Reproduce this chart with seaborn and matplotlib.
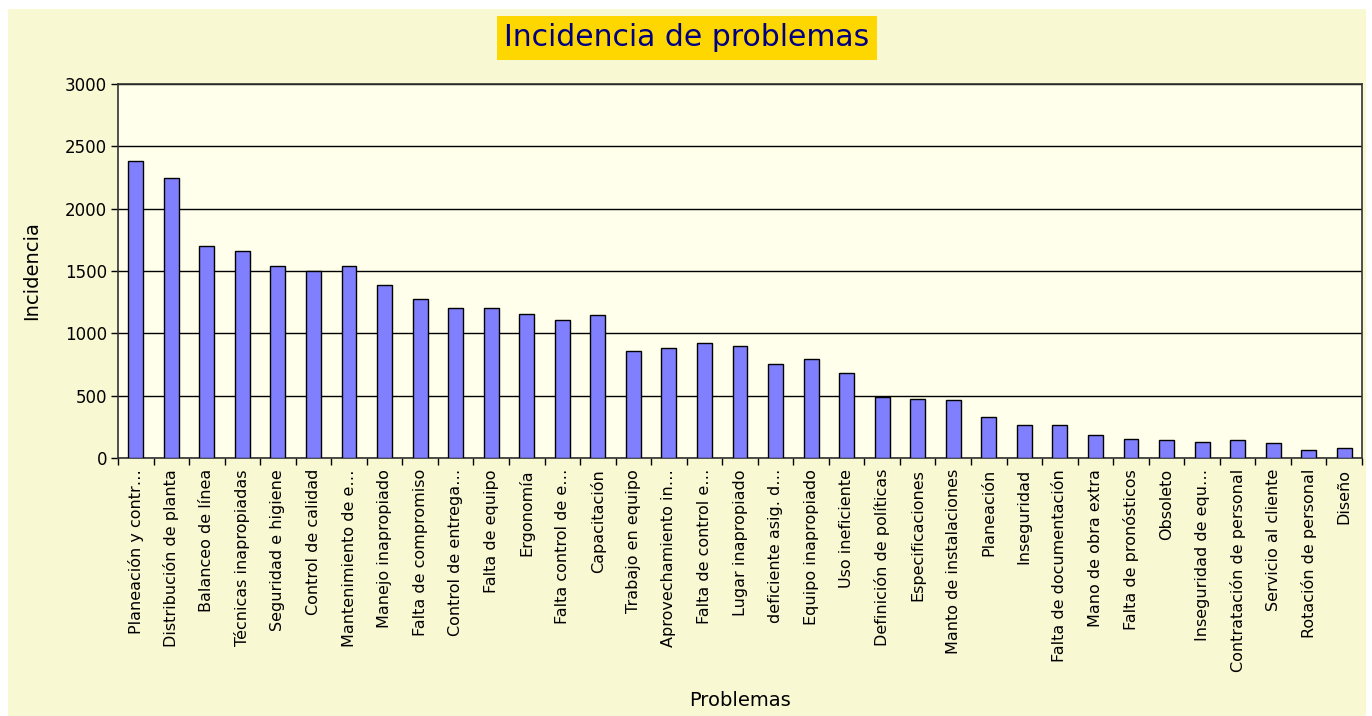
import seaborn as sns
import numpy as np
import pandas as pd
import matplotlib.pyplot as plt
from matplotlib.patches import Rectangle
from matplotlib.ticker import FixedLocator

problemas = [
    "Planeación y contr…", "Distribución de planta", "Balanceo de línea",
    "Técnicas inapropiadas", "Seguridad e higiene", "Control de calidad",
    "Mantenimiento de e…", "Manejo inapropiado", "Falta de compromiso",
    "Control de entrega…", "Falta de equipo", "Ergonomía",
    "Falta control de e…", "Capacitación", "Trabajo en equipo",
    "Aprovechamiento in…", "Falta de control e…", "Lugar inapropiado",
    "deficiente asig. d…", "Equipo inapropiado", "Uso ineficiente",
    "Definición de políticas", "Especificaciones", "Manto de instalaciones",
    "Planeación", "Inseguridad", "Falta de documentación",
    "Mano de obra extra", "Falta de pronósticos", "Obsoleto",
    "Inseguridad de equ…", "Contratación de personal", "Servicio al cliente",
    "Rotación de personal", "Diseño",
]
incidencia = [
    2380, 2250, 1700, 1660, 1540, 1500, 1540, 1385, 1275,
    1200, 1200, 1155, 1105, 1147, 858, 882, 922, 896,
    751, 791, 684, 490, 473, 468, 325, 261, 261,
    181, 155, 141, 128, 141, 117, 64, 77,
]
y_ticks = [0, 500, 1000, 1500, 2000, 2500, 3000]

df = pd.DataFrame({"Problemas": problemas, "Incidencia": incidencia})

plt.rcParams["font.family"] = ["DejaVu Sans"]

fig = plt.figure(figsize=(13.72, 7.16), dpi=100)
fig.patch.set_facecolor("white")
fig.patches.append(Rectangle((8 / 1372, 0), 1358 / 1372, 1 - 9 / 716,
                             transform=fig.transFigure, facecolor="#F8F8D2",
                             edgecolor="none", zorder=-5))

ax = fig.add_axes([118 / 1372, 1 - 458 / 716, 1244 / 1372, 374 / 716])
ax.set_facecolor("#FFFFEB")

sns.barplot(data=df, x="Problemas", y="Incidencia", ax=ax, color="#8080FF",
            saturation=1, edgecolor="black", linewidth=1.0, width=0.42, zorder=3)

ax.set_ylim(0, 3000)
ax.set_xlim(-0.5, len(problemas) - 0.5)
ax.set_yticks(y_ticks)
ax.yaxis.grid(True, color="black", linewidth=1.0, zorder=1)
ax.set_axisbelow(True)

# ticks between categories, like the original chart
ax.xaxis.set_minor_locator(FixedLocator(np.arange(-0.5, len(problemas), 1.0)))
ax.tick_params(axis="x", which="major", length=0, pad=8, labelsize=11.5, rotation=90)
ax.tick_params(axis="x", which="minor", length=5, width=1, color="black", direction="out")
ax.tick_params(axis="y", length=5, width=1, color="black", labelsize=12, pad=3)
for lab in ax.get_xticklabels():
    lab.set_verticalalignment("top")

for side in ["left", "bottom", "right", "top"]:
    ax.spines[side].set_color("#333333")
    ax.spines[side].set_linewidth(1.2)

ax.set_xlabel("Problemas", fontsize=14, labelpad=0)
ax.xaxis.set_label_coords((740 - 118) / 1244, -(691 - 458) / 374)
ax.set_ylabel("Incidencia", fontsize=14)
ax.yaxis.set_label_coords(-77 / 1244, 0.5)

fig.text(687 / 1372, 1 - 38 / 716, "Incidencia de problemas", ha="center", va="center",
         fontsize=21.5, color="#000080", family="DejaVu Sans",
         bbox=dict(facecolor="#FFD700", edgecolor="none", boxstyle="square,pad=0.26"))

fig.savefig("out.png", dpi=100, facecolor=fig.get_facecolor())
